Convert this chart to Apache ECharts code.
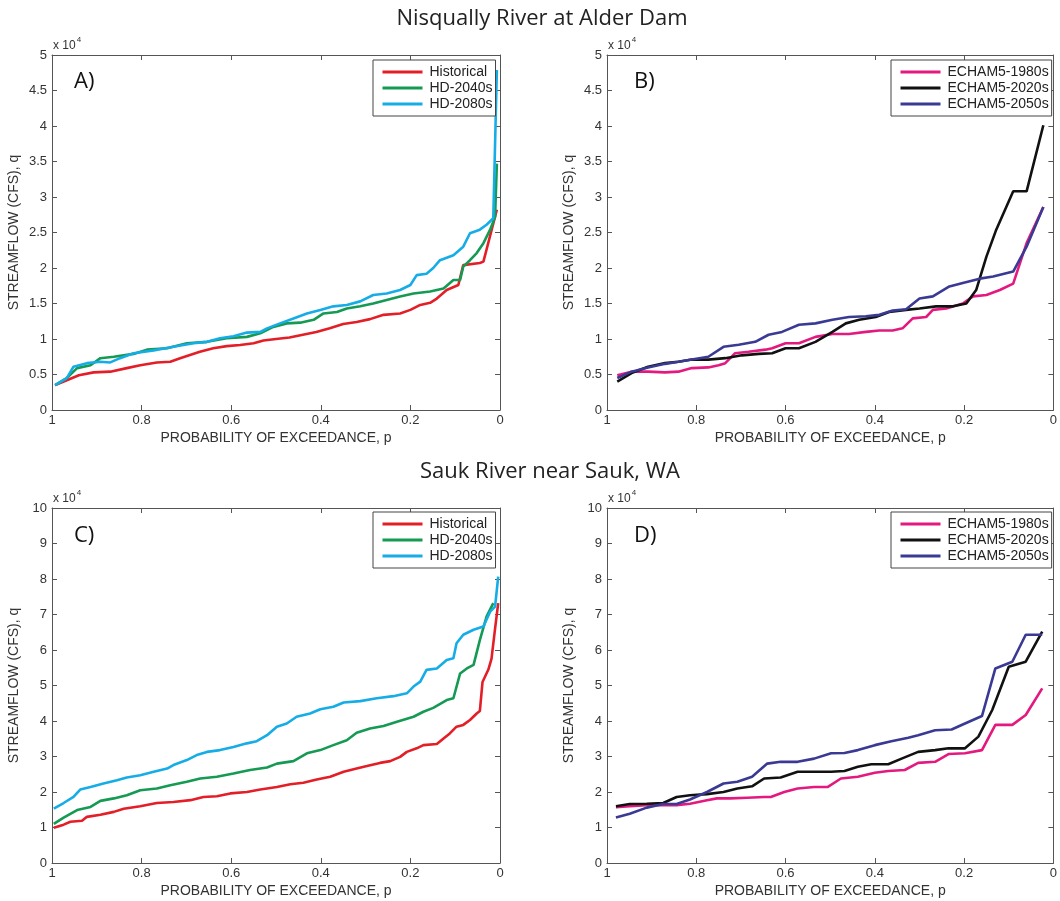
<!DOCTYPE html>
<html><head><meta charset="utf-8">
<script src="https://cdn.jsdelivr.net/npm/echarts@6/dist/echarts.min.js"></script>
<style>html,body{margin:0;padding:0;background:#fff}#c{width:1060px;height:901px}</style>
</head><body><div id="c"></div>
<script>
// Streamflow in units of 10^4 CFS; p = probability of exceedance
const xTicks = [0, 0.2, 0.4, 0.6, 0.8, 1];

// Panel A: Nisqually, hydrologic scenarios
const pA_hist = [0.993,0.967,0.94,0.907,0.87,0.833,0.803,0.766,0.736,0.714,0.67,0.64,0.61,0.58,0.55,0.528,0.5,0.47,0.44,0.41,0.38,0.35,0.32,0.29,0.26,0.223,0.2,0.178,0.156,0.141,0.119,0.093,0.082,0.045,0.037,0.007];
const qA_hist = [0.35,0.42,0.49,0.53,0.54,0.59,0.63,0.67,0.68,0.73,0.82,0.87,0.90,0.915,0.94,0.98,1.0,1.02,1.06,1.10,1.15,1.21,1.24,1.28,1.34,1.36,1.41,1.48,1.51,1.57,1.69,1.76,2.04,2.07,2.09,2.82];
const pA_2040 = [0.993,0.967,0.944,0.914,0.892,0.862,0.818,0.788,0.743,0.699,0.654,0.61,0.565,0.535,0.506,0.476,0.446,0.416,0.394,0.364,0.342,0.312,0.283,0.253,0.223,0.193,0.156,0.126,0.104,0.089,0.082,0.067,0.052,0.037,0.022,0.011,0.007];
const qA_2040 = [0.35,0.45,0.59,0.63,0.73,0.75,0.79,0.85,0.87,0.94,0.96,1.01,1.03,1.08,1.17,1.22,1.23,1.27,1.36,1.38,1.43,1.46,1.50,1.55,1.60,1.64,1.67,1.71,1.83,1.83,2.02,2.11,2.21,2.35,2.54,2.72,3.47];
const pA_2080 = [0.993,0.967,0.952,0.922,0.892,0.87,0.848,0.818,0.773,0.729,0.684,0.654,0.625,0.595,0.565,0.535,0.52,0.491,0.461,0.431,0.401,0.372,0.342,0.312,0.283,0.253,0.223,0.2,0.186,0.164,0.149,0.134,0.104,0.082,0.067,0.045,0.030,0.015,0.007];
const qA_2080 = [0.35,0.45,0.61,0.66,0.68,0.67,0.73,0.80,0.84,0.89,0.94,0.96,1.01,1.04,1.09,1.10,1.15,1.22,1.29,1.36,1.41,1.46,1.48,1.53,1.62,1.64,1.69,1.76,1.90,1.92,2.00,2.11,2.18,2.30,2.49,2.54,2.61,2.70,4.79];

// Panel B: Nisqually, ECHAM5
const pB_1980 = [0.977,0.945,0.908,0.870,0.840,0.810,0.773,0.750,0.735,0.713,0.683,0.645,0.630,0.600,0.570,0.533,0.495,0.458,0.420,0.390,0.360,0.338,0.315,0.285,0.270,0.240,0.203,0.180,0.150,0.120,0.090,0.060,0.0225];
const qB_1980 = [0.49,0.54,0.54,0.53,0.54,0.59,0.60,0.63,0.66,0.80,0.82,0.85,0.87,0.94,0.94,1.03,1.07,1.07,1.10,1.12,1.12,1.15,1.29,1.31,1.41,1.43,1.50,1.60,1.62,1.69,1.78,2.35,2.86];
const pB_2020 = [0.977,0.945,0.908,0.870,0.840,0.810,0.773,0.735,0.698,0.660,0.630,0.600,0.570,0.533,0.495,0.465,0.435,0.398,0.368,0.330,0.300,0.263,0.225,0.195,0.173,0.150,0.128,0.090,0.060,0.0225];
const qB_2020 = [0.40,0.52,0.61,0.66,0.68,0.71,0.71,0.73,0.77,0.79,0.80,0.87,0.87,0.96,1.10,1.22,1.27,1.31,1.38,1.41,1.43,1.46,1.46,1.50,1.69,2.16,2.54,3.08,3.08,4.01];
const pB_2050 = [0.977,0.945,0.908,0.870,0.840,0.810,0.773,0.739,0.705,0.668,0.638,0.608,0.570,0.533,0.495,0.458,0.420,0.390,0.360,0.330,0.300,0.270,0.233,0.203,0.165,0.135,0.090,0.060,0.0225];
const qB_2050 = [0.45,0.54,0.60,0.65,0.68,0.71,0.75,0.89,0.92,0.96,1.06,1.10,1.20,1.22,1.27,1.31,1.32,1.34,1.40,1.42,1.57,1.60,1.74,1.79,1.85,1.88,1.95,2.30,2.86];

// Panel C: Sauk, hydrologic scenarios
const pC_hist = [0.996,0.974,0.959,0.933,0.922,0.892,0.862,0.840,0.803,0.766,0.729,0.691,0.662,0.632,0.602,0.565,0.535,0.498,0.468,0.439,0.409,0.379,0.349,0.320,0.297,0.268,0.245,0.223,0.208,0.186,0.171,0.141,0.126,0.112,0.097,0.082,0.067,0.052,0.045,0.039,0.026,0.019,0.011,0.004];
const qC_hist = [0.99,1.08,1.16,1.19,1.30,1.36,1.44,1.53,1.60,1.69,1.72,1.77,1.86,1.88,1.96,2.00,2.07,2.14,2.22,2.26,2.35,2.43,2.57,2.66,2.73,2.82,2.87,2.99,3.13,3.23,3.32,3.35,3.51,3.65,3.84,3.89,4.03,4.21,4.28,5.10,5.45,5.75,6.60,7.32];
const pC_2040 = [0.996,0.974,0.944,0.914,0.892,0.862,0.833,0.803,0.766,0.736,0.699,0.669,0.632,0.595,0.558,0.520,0.498,0.461,0.431,0.401,0.372,0.342,0.320,0.290,0.260,0.230,0.193,0.171,0.149,0.119,0.104,0.089,0.074,0.059,0.045,0.030,0.015];
const qC_2040 = [1.10,1.28,1.49,1.58,1.75,1.82,1.91,2.05,2.10,2.19,2.29,2.38,2.43,2.52,2.62,2.69,2.80,2.87,3.09,3.18,3.32,3.46,3.67,3.79,3.86,3.98,4.12,4.26,4.37,4.59,4.64,5.34,5.48,5.58,6.28,6.94,7.32];
const pC_2080 = [0.996,0.974,0.952,0.937,0.914,0.885,0.855,0.833,0.803,0.773,0.743,0.729,0.699,0.677,0.654,0.625,0.595,0.565,0.543,0.520,0.498,0.476,0.454,0.424,0.401,0.372,0.349,0.312,0.275,0.238,0.208,0.193,0.178,0.164,0.141,0.119,0.104,0.097,0.082,0.059,0.037,0.022,0.011,0.004];
const qC_2080 = [1.53,1.69,1.86,2.07,2.14,2.24,2.33,2.41,2.47,2.57,2.66,2.76,2.90,3.04,3.13,3.18,3.27,3.37,3.43,3.60,3.84,3.93,4.12,4.21,4.33,4.40,4.52,4.56,4.64,4.70,4.78,4.97,5.11,5.44,5.48,5.72,5.77,6.19,6.43,6.57,6.66,7.08,7.22,8.07];

// Panel D: Sauk, ECHAM5
const pD_1980 = [0.980,0.949,0.911,0.874,0.844,0.814,0.776,0.754,0.724,0.686,0.648,0.633,0.603,0.573,0.536,0.506,0.476,0.438,0.400,0.370,0.333,0.303,0.265,0.235,0.198,0.160,0.130,0.092,0.062,0.025];
const qD_1980 = [1.57,1.60,1.63,1.63,1.63,1.67,1.77,1.82,1.82,1.84,1.86,1.86,2.00,2.10,2.14,2.14,2.38,2.43,2.54,2.59,2.62,2.82,2.85,3.07,3.09,3.18,3.89,3.89,4.17,4.92];
const pD_2020 = [0.980,0.949,0.911,0.874,0.844,0.814,0.776,0.739,0.708,0.675,0.648,0.611,0.573,0.536,0.498,0.468,0.438,0.408,0.370,0.340,0.303,0.265,0.235,0.198,0.168,0.137,0.100,0.062,0.025];
const qD_2020 = [1.60,1.66,1.67,1.69,1.86,1.91,1.94,2.00,2.10,2.16,2.38,2.41,2.57,2.57,2.57,2.59,2.71,2.78,2.78,2.94,3.13,3.18,3.23,3.23,3.56,4.31,5.53,5.67,6.52];
const pD_2050 = [0.980,0.949,0.911,0.874,0.844,0.814,0.776,0.739,0.708,0.675,0.641,0.611,0.573,0.536,0.498,0.468,0.438,0.400,0.363,0.325,0.303,0.265,0.228,0.198,0.160,0.130,0.092,0.062,0.025];
const qD_2050 = [1.28,1.39,1.56,1.66,1.66,1.79,2.00,2.24,2.29,2.43,2.80,2.85,2.85,2.94,3.09,3.10,3.18,3.32,3.43,3.53,3.60,3.74,3.76,3.93,4.14,5.48,5.67,6.43,6.43];

const namesHD = ['Historical','HD-2040s','HD-2080s'];
const namesEC = ['ECHAM5-1980s','ECHAM5-2020s','ECHAM5-2050s'];
const colHD = ['#e31e27','#149a52','#16ade6'];
const colEC = ['#e4197f','#111111','#3a3a95'];

const FONT = '"Liberation Sans", Arial, sans-serif';
const zip = (p,q) => p.map((v,i)=>[v,q[i]]);

const grids = [
  {left:52, top:55, width:448, height:355},
  {left:607, top:55, width:448, height:355},
  {left:52, top:508, width:448, height:355},
  {left:607, top:508, width:448, height:355}
];
const yMax = [5,5,10,10], yInt = [0.5,0.5,1,1];

const lineCol = '#555';
const axLine = {show:true, onZero:false, lineStyle:{color:lineCol, width:1}};
const axTick = {show:true, inside:true, length:5, lineStyle:{color:lineCol}};
const xAxes = [], yAxes = [];
grids.forEach((g,i)=>{
  xAxes.push({type:'value', gridIndex:i, min:0, max:1, interval:0.2, inverse:true, position:'bottom',
    name:'PROBABILITY OF EXCEEDANCE, p', nameLocation:'middle', nameGap:21,
    nameTextStyle:{fontFamily:FONT, fontSize:14, color:'#333'},
    axisLine:axLine, axisTick:axTick,
    axisLabel:{fontFamily:FONT, fontSize:13, color:'#333', margin:4},
    splitLine:{show:false}});
  xAxes.push({type:'value', gridIndex:i, min:0, max:1, interval:0.2, inverse:true, position:'top',
    axisLine:axLine, axisTick:axTick,
    axisLabel:{show:false}, splitLine:{show:false}});
  yAxes.push({type:'value', gridIndex:i, min:0, max:yMax[i], interval:yInt[i], position:'left',
    name:'STREAMFLOW (CFS), q', nameLocation:'middle', nameGap:31,
    nameTextStyle:{fontFamily:FONT, fontSize:14, color:'#333'},
    axisLine:axLine, axisTick:axTick,
    axisLabel:{fontFamily:FONT, fontSize:13, color:'#333', margin:5},
    splitLine:{show:false}});
  yAxes.push({type:'value', gridIndex:i, min:0, max:yMax[i], interval:yInt[i], position:'right',
    axisLine:axLine, axisTick:axTick,
    axisLabel:{show:false}, splitLine:{show:false}});
});

const panelData = [
  [zip(pA_hist,qA_hist), zip(pA_2040,qA_2040), zip(pA_2080,qA_2080)],
  [zip(pB_1980,qB_1980), zip(pB_2020,qB_2020), zip(pB_2050,qB_2050)],
  [zip(pC_hist,qC_hist), zip(pC_2040,qC_2040), zip(pC_2080,qC_2080)],
  [zip(pD_1980,qD_1980), zip(pD_2020,qD_2020), zip(pD_2050,qD_2050)]
];
const series = [];
panelData.forEach((sets,i)=>{
  const names = (i%2===0)?namesHD:namesEC;
  const cols = (i%2===0)?colHD:colEC;
  sets.forEach((d,k)=>{
    series.push({type:'line', name:names[k], xAxisIndex:2*i, yAxisIndex:2*i, data:d,
      symbol:'none', lineStyle:{color:cols[k], width:2.6}, itemStyle:{color:cols[k]},
      animation:false, silent:true});
  });
});

const legendBase = {orient:'vertical', backgroundColor:'#fff', borderColor:'#444', borderWidth:1,
  padding:[5,3,5,8], itemWidth:40, itemHeight:15, itemGap:2,
  lineStyle:{width:3}, itemStyle:{opacity:0},
  textStyle:{fontFamily:FONT, fontSize:14, color:'#222', padding:[0,0,0,2]}, selectedMode:false};
const legends = [
  Object.assign({}, legendBase, {left:373, top:60, data:namesHD}),
  Object.assign({}, legendBase, {left:891, top:60, data:namesEC}),
  Object.assign({}, legendBase, {left:373, top:512, data:namesHD}),
  Object.assign({}, legendBase, {left:891, top:512, data:namesEC})
];

const TFONT = '"Open Sans", "Noto Sans", sans-serif';
const titles = [
  {text:'Nisqually River at Alder Dam', left:537, textAlign:'center', top:3, textStyle:{fontFamily:TFONT, fontSize:22, fontWeight:'normal', color:'#222'}},
  {text:'Sauk River near Sauk, WA', left:545, textAlign:'center', top:456, textStyle:{fontFamily:TFONT, fontSize:22, fontWeight:'normal', color:'#222'}},
  {text:'A)', left:69, top:66, textStyle:{fontFamily:TFONT, fontSize:22, fontWeight:'normal', color:'#111'}},
  {text:'B)', left:629, top:66, textStyle:{fontFamily:TFONT, fontSize:22, fontWeight:'normal', color:'#111'}},
  {text:'C)', left:69, top:520, textStyle:{fontFamily:TFONT, fontSize:22, fontWeight:'normal', color:'#111'}},
  {text:'D)', left:629, top:520, textStyle:{fontFamily:TFONT, fontSize:22, fontWeight:'normal', color:'#111'}}
];

const expo = (x,y)=>({type:'text', left:x, top:y, style:{
  text:'{a|x 10}{b|4}', rich:{a:{fontFamily:FONT, fontSize:12, fill:'#333', verticalAlign:'bottom'},
  b:{fontFamily:FONT, fontSize:8, fill:'#333', verticalAlign:'top', padding:[0,0,8,1]}}}});

const chart = echarts.init(document.getElementById('c'), null, {renderer:'canvas'});
chart.setOption({
  animation:false,
  backgroundColor:'#fff',
  title:titles,
  legend:legends,
  grid:grids.map(g=>Object.assign({show:false, containLabel:false}, g)),
  xAxis:xAxes, yAxis:yAxes, series:series,
  graphic:[expo(53,36), expo(608,36), expo(53,489), expo(608,489)]
});
</script></body></html>
